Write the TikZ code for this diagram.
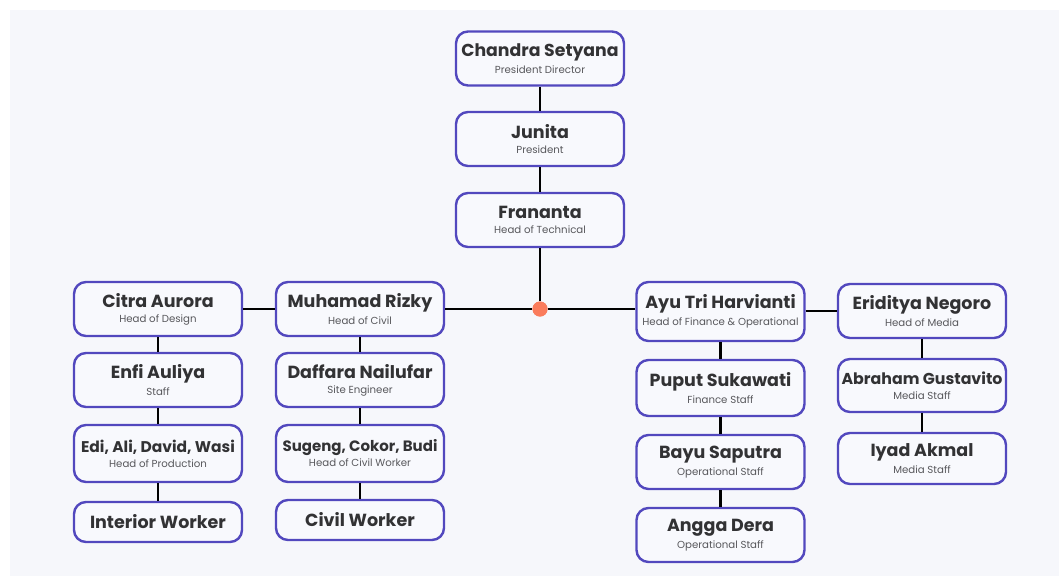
\documentclass[tikz,border=0pt]{standalone}
\usepackage{fontspec}
\setmainfont{Poppins}
\usetikzlibrary{positioning}
\definecolor{fg}{RGB}{50,50,52}
\definecolor{mu}{RGB}{88,88,92}
\definecolor{acc}{RGB}{82,72,190}
\definecolor{bg}{RGB}{246,247,251}
\definecolor{card}{RGB}{248,249,253}
\definecolor{warm}{RGB}{250,124,92}
\newcommand{\member}[3][17.5]{{\fontsize{#1}{19}\selectfont\bfseries #2}\\[3pt]{\fontsize{10.2}{12}\selectfont\color{mu}#3}}
\tikzset{
  every picture/.style={line cap=round, line join=round},
  % Kaesten
  person/.style={draw=acc, fill=card, line width=2.4pt, rounded corners=12pt,
    minimum width=168pt, minimum height=54pt, align=center, text=fg, inner sep=1pt},
  % Verbindungen
  link/.style={line width=2.6pt, black, line cap=butt},
  hub/.style={circle, fill=warm, inner sep=0pt, minimum size=15pt},
}
\begin{document}
\begin{tikzpicture}[x=1pt, y=-1pt]
  \useasboundingbox (0,0) rectangle (1059,576);
  \fill[white] (0,0) rectangle (1059,576);
  \fill[bg] (10,10) rectangle (1059,576);
  % ---------- Leitung ----------
  \node[person] (chandra) at (540,58.5) {\member[17.3]{Chandra Setyana}{President Director}};
  \node[person] (junita) at (540,139) {\member{Junita}{President}};
  \node[person] (frananta) at (540,220) {\member{Frananta}{Head of Technical}};
  % ---------- Technik ----------
  \node[person] (citra) at (158,309) {\member{Citra Aurora}{Head of Design}};
  \node[person] (enfi) at (158,380) {\member{Enfi Auliya}{Staff}};
  \node[person, minimum height=57pt] (edi) at (158,453.5) {\member[15.5]{Edi, Ali, David, Wasi}{Head of Production}};
  \node[person, minimum height=40pt] (interior) at (158,522) {\fontsize{17.5}{19}\selectfont\bfseries Interior Worker};
  \node[person] (muhamad) at (360,309) {\member{Muhamad Rizky}{Head of Civil}};
  \node[person] (daffara) at (360,380) {\member{Daffara Nailufar}{Site Engineer}};
  \node[person, minimum height=57pt] (sugeng) at (360,453.5) {\member[15]{Sugeng, Cokor, Budi}{Head of Civil Worker}};
  \node[person, minimum height=40pt] (civil) at (360,520) {\fontsize{17.5}{19}\selectfont\bfseries Civil Worker};
  % ---------- Finanzen und Medien ----------
  \node[person, minimum height=59pt] (ayu) at (720.5,311.5) {\member{Ayu Tri Harvianti}{Head of Finance \& Operational}};
  \node[person, minimum height=56pt] (puput) at (720.5,388) {\member{Puput Sukawati}{Finance Staff}};
  \node[person] (bayu) at (720.5,462) {\member{Bayu Saputra}{Operational Staff}};
  \node[person] (angga) at (720.5,535) {\member{Angga Dera}{Operational Staff}};
  \node[person] (eriditya) at (922,311) {\member{Eriditya Negoro}{Head of Media}};
  \node[person, minimum height=53pt] (abraham) at (922,385.5) {\member[15.8]{Abraham Gustavito}{Media Staff}};
  \node[person, minimum height=51pt] (iyad) at (922,458.5) {\member{Iyad Akmal}{Media Staff}};
  % ---------- Linien ----------
  \node[hub] (hub) at (540,309) {};
  \foreach \a/\b in {chandra/junita, junita/frananta, frananta/hub,
      citra/enfi, enfi/edi, edi/interior, muhamad/daffara, daffara/sugeng, sugeng/civil,
      ayu/puput, puput/bayu, bayu/angga, eriditya/abraham, abraham/iyad, citra/muhamad}
    \draw[link] (\a) -- (\b);
  \draw[link] (muhamad.east |- hub) -- (hub) -- (hub -| ayu.west);
  \draw[link] (ayu.east |- eriditya) -- (eriditya);
  \node[hub] at (hub) {};
\end{tikzpicture}
\end{document}
